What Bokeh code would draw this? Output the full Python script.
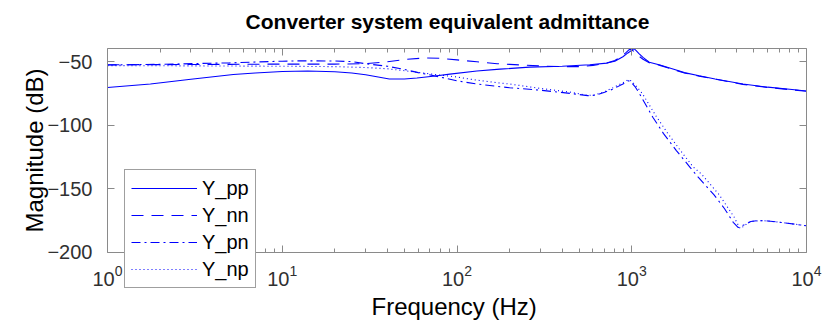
import math
from bokeh.plotting import figure
from bokeh.models import Range1d, FixedTicker, LogAxis, LinearAxis, Label
from bokeh.embed import file_html
from bokeh.resources import INLINE

# ---------------- data ----------------
freq_pp = [1, 1.76, 3, 5.25, 7, 10, 14, 20, 25, 30, 41, 50, 59, 75, 91, 130, 176, 260,
           400, 575, 720, 800, 890, 950, 1000, 1030, 1060, 1100, 1160, 1260, 1450, 2000,
           2430, 3000, 4330, 6000, 8000, 10000]
mag_pp = [-70.2, -67.5, -63.8, -60, -58.8, -57.6, -57.2, -57.8, -58.8, -60.2, -63.6, -63.6,
          -62.8, -61.2, -59.7, -57.3, -55.8, -54.2, -53.5, -52.3, -51, -49.5, -46, -43, -41,
          -39.6, -41.2, -43.5, -46.5, -50.3, -52.5, -58.5, -61, -63.5, -67.5, -70, -71.7, -73]

freq_nn = [1, 2, 5, 10, 20, 30, 40, 50, 65, 80, 100, 130, 170, 200, 300, 400, 500, 600, 700,
           800, 870, 930, 970, 1000, 1040, 1100, 1160, 1260, 1450, 2000, 2430, 3000, 4330,
           6000, 8000, 10000]
mag_nn = [-52.3, -52.2, -52, -51.8, -51.8, -51.5, -50, -48.2, -47, -47.2, -48.5, -50, -51.5,
          -52, -53.3, -53.8, -53.8, -52.8, -51.5, -49, -46, -42.5, -40.2, -40.5, -42.5,
          -45.5, -48, -50.8, -52.8, -58.8, -61.3, -63.7, -67.8, -70.2, -71.9, -73.2]

freq_pn = [1, 2, 5, 10, 13, 20, 25, 30, 40, 50, 60, 80, 100, 130, 170, 200, 300, 450, 560,
           620, 700, 780, 890, 950, 980, 1050, 1110, 1320, 1520, 1800, 2150, 2400, 2950,
           3390, 3810, 4070, 4400, 4800, 5300, 6000, 7500, 10000]
mag_pn = [-52.5, -52, -50.8, -49.5, -49.2, -49.4, -49.8, -51.5, -53.5, -56, -58.5, -62, -65,
          -67.5, -69.4, -70.4, -72.4, -75, -76.7, -76.3, -74, -71.5, -67.5, -65, -65.2, -70,
          -75.4, -93.7, -106.6, -120, -133, -141, -154.7, -165.7, -176.6, -180.7, -178.5,
          -176, -175.2, -175.5, -177, -179.3]

freq_np = [1, 3, 10, 20, 30, 40, 50, 70, 100, 130, 170, 200, 300, 450, 560, 620, 700, 780,
           890, 950, 990, 1050, 1150, 1380, 1600, 1900, 2250, 2500, 3160, 3860, 4000, 4170,
           4400, 4650, 5000, 5600, 6000, 7500, 10000]
mag_np = [-53, -53.2, -53.5, -53.8, -54.5, -55.5, -57, -59.5, -62, -64.5, -66.5, -67.5, -71,
          -74, -76.5, -76, -73.5, -70.5, -66.5, -64.2, -65, -68.5, -75, -93, -106, -120, -133,
          -138.4, -154.7, -172.6, -177, -181.5, -179.5, -176.6, -175.6, -175.3, -175.5, -177,
          -179.3]

x_limits = (1, 10000)
y_limits = (-200, -39.5)
x_major = [1, 10, 100, 1000, 10000]
y_major = [-200, -150, -100, -50]
series_labels = ["Y_pp", "Y_nn", "Y_pn", "Y_np"]
title_text = "Converter system equivalent admittance"
xlabel_text = "Frequency  (Hz)"
ylabel_text = "Magnitude (dB)"

# ---------------- layout ----------------
# The plot frame fills the whole page so that nothing (legend overhanging the
# x axis, outer tick labels) is clipped; the axes box is placed inside it with
# fixed-location axes and bounds.
W, H = 838, 324
BOX_L, BOX_R, BOX_T, BOX_B = 107, 806, 48, 251.5
px_per_dec = (BOX_R - BOX_L) / (math.log10(x_limits[1]) - math.log10(x_limits[0]))
px_per_db = (BOX_B - BOX_T) / (y_limits[1] - y_limits[0])
xr = Range1d(10 ** (math.log10(x_limits[0]) - BOX_L / px_per_dec),
             10 ** (math.log10(x_limits[1]) + (W - BOX_R) / px_per_dec))
yr = Range1d(y_limits[0] - (H - BOX_B) / px_per_db,
             y_limits[1] + BOX_T / px_per_db)

FONT = "Liberation Sans"
AX = "#8a8a8a"
TXT = "#303030"

p = figure(width=W, height=H, x_axis_type="log", x_range=xr, y_range=yr,
           output_backend="svg", toolbar_location=None,
           min_border_left=0, min_border_right=0, min_border_top=0, min_border_bottom=0)
p.outline_line_color = None
p.xgrid.visible = False
p.ygrid.visible = False
p.background_fill_color = "white"
p.border_fill_color = "white"

minor = [m * 10 ** e for e in range(4) for m in range(2, 10)]

def style_x(ax, labels=True):
    ax.ticker = FixedTicker(ticks=x_major, minor_ticks=minor)
    ax.bounds = x_limits
    ax.axis_line_color = AX
    ax.major_tick_line_color = AX
    ax.minor_tick_line_color = AX
    ax.major_tick_in = 7
    ax.major_tick_out = 0
    ax.minor_tick_in = 4
    ax.minor_tick_out = 0
    if labels:
        ax.major_label_text_font = FONT
        ax.major_label_text_font_size = "20px"
        ax.major_label_text_color = TXT
        ax.major_label_standoff = 13
    else:
        ax.major_label_text_font_size = "1px"
        ax.major_label_text_color = None
        ax.major_label_standoff = 0

def style_y(ax, labels=True):
    ax.ticker = FixedTicker(ticks=y_major)
    ax.bounds = y_limits
    ax.axis_line_color = AX
    ax.major_tick_line_color = AX
    ax.minor_tick_line_color = None
    ax.major_tick_in = 7
    ax.major_tick_out = 0
    if labels:
        ax.major_label_text_font = FONT
        ax.major_label_text_font_size = "20px"
        ax.major_label_text_color = TXT
        ax.major_label_standoff = 15
    else:
        ax.major_label_text_font_size = "1px"
        ax.major_label_text_color = None
        ax.major_label_standoff = 0

xa = p.xaxis[0]
style_x(xa)
xa.fixed_location = y_limits[0]

ya = p.yaxis[0]
style_y(ya)
ya.fixed_location = x_limits[0]

top = LogAxis(fixed_location=y_limits[1])
style_x(top, labels=False)
p.add_layout(top, "above")
right = LinearAxis(fixed_location=x_limits[1])
style_y(right, labels=False)
p.add_layout(right, "right")

# title and axis titles
p.add_layout(Label(x=447, y=H - 21, x_units="screen", y_units="screen", text=title_text,
                   text_font=FONT, text_font_size="21px", text_font_style="bold",
                   text_color="black", text_align="center", text_baseline="middle"))
p.add_layout(Label(x=457, y=H - 306, x_units="screen", y_units="screen", text=xlabel_text,
                   text_font=FONT, text_font_size="24px", text_color="black",
                   text_align="center", text_baseline="middle"))
p.add_layout(Label(x=34, y=H - 150, x_units="screen", y_units="screen", text=ylabel_text,
                   angle=math.pi / 2, text_font=FONT, text_font_size="24px",
                   text_color="black", text_align="center", text_baseline="middle"))

BLUE = "#0000ff"
p.line(freq_pp, mag_pp, line_color=BLUE, line_width=1.1, legend_label=series_labels[0])
p.line(freq_nn, mag_nn, line_color=BLUE, line_width=1.1, line_dash="12 8",
       legend_label=series_labels[1])
p.line(freq_pn, mag_pn, line_color=BLUE, line_width=1.1, line_dash="9 4 2 4",
       legend_label=series_labels[2])
p.line(freq_np, mag_np, line_color=BLUE, line_width=1.1, line_dash="1 3",
       legend_label=series_labels[3])

lg = p.legend[0]
lg.location = (124, 36)
lg.glyph_width = 66
lg.glyph_height = 24
lg.label_height = 24
lg.spacing = 3
lg.padding = 6
lg.margin = 0
lg.label_standoff = 5
lg.label_text_font = FONT
lg.label_text_font_size = "20px"
lg.label_text_color = "black"
lg.border_line_color = "#404040"
lg.border_line_width = 1
lg.background_fill_color = "white"
lg.background_fill_alpha = 1.0

open("out.html", "w").write(file_html(p, INLINE))
